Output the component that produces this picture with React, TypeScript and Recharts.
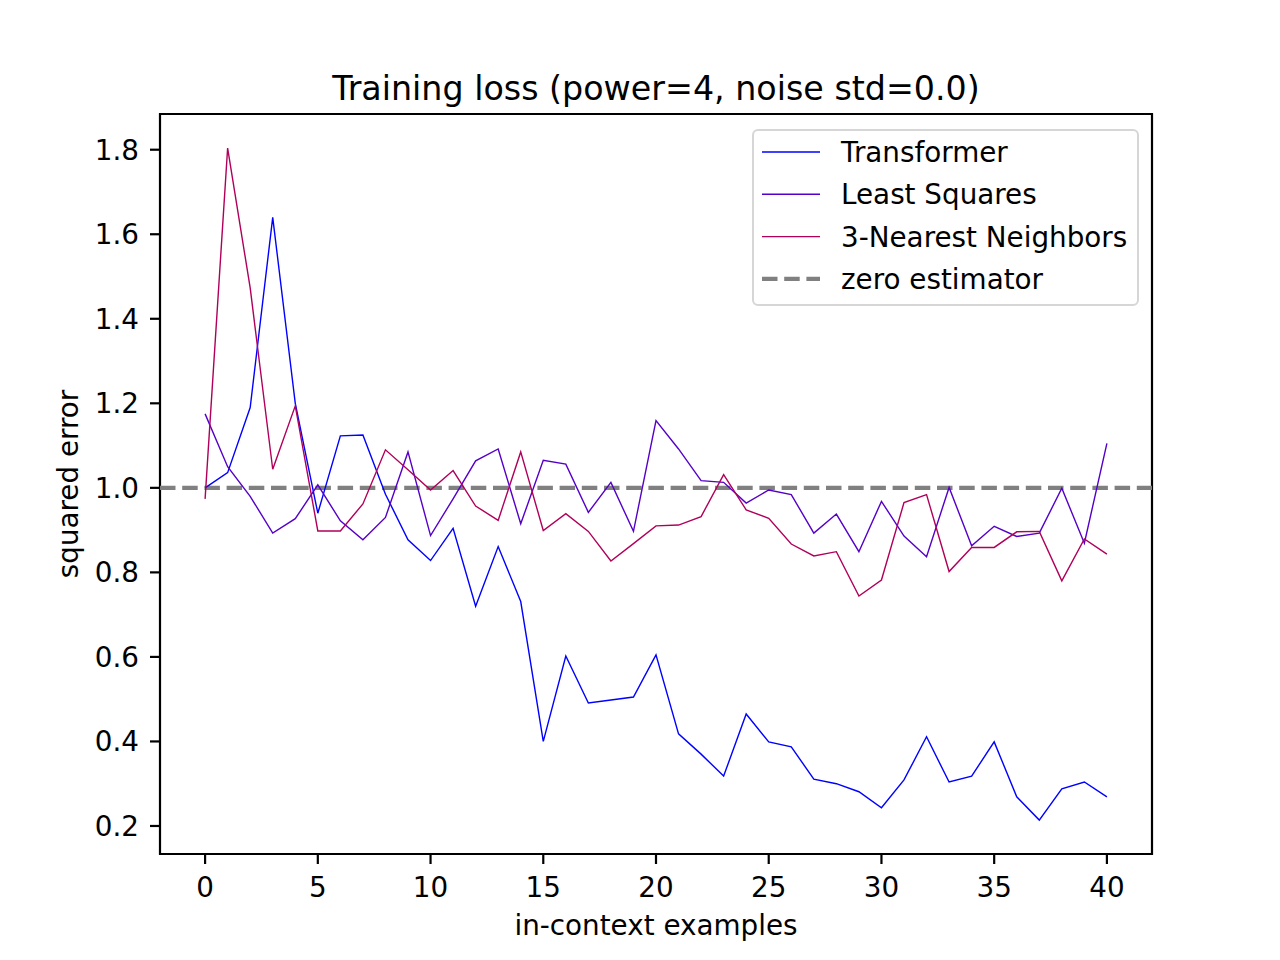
import {
  Line,
  LineChart,
  ReferenceArea,
  ReferenceLine,
  XAxis,
  YAxis,
  Label,
} from "recharts";

const examples = [
  0, 1, 2, 3, 4, 5, 6, 7, 8, 9, 10, 11, 12, 13, 14, 15, 16, 17, 18, 19, 20,
  21, 22, 23, 24, 25, 26, 27, 28, 29, 30, 31, 32, 33, 34, 35, 36, 37, 38, 39, 40,
];

const transformer = [
  1.0, 1.036, 1.19, 1.64, 1.2, 0.94, 1.123, 1.125, 0.985, 0.877, 0.828, 0.904,
  0.72, 0.861, 0.731, 0.4, 0.602, 0.491, 0.498, 0.505, 0.605, 0.418, 0.37,
  0.318, 0.465, 0.399, 0.387, 0.311, 0.3, 0.281, 0.243, 0.309, 0.411, 0.304,
  0.318, 0.399, 0.269, 0.214, 0.288, 0.304, 0.269,
];

const leastSquares = [
  1.175, 1.05, 0.98, 0.893, 0.927, 1.007, 0.922, 0.877, 0.93, 1.085, 0.887,
  0.974, 1.064, 1.092, 0.915, 1.065, 1.056, 0.942, 1.013, 0.897, 1.159, 1.092,
  1.017, 1.013, 0.964, 0.995, 0.984, 0.893, 0.938, 0.849, 0.968, 0.886, 0.837,
  1.001, 0.863, 0.909, 0.885, 0.893, 0.999, 0.869, 1.105,
];

const nearest3 = [
  0.974, 1.804, 1.473, 1.044, 1.194, 0.898, 0.898, 0.962, 1.09, 1.043, 0.995,
  1.041, 0.957, 0.923, 1.085, 0.899, 0.939, 0.897, 0.827, 0.868, 0.91, 0.912,
  0.932, 1.031, 0.948, 0.928, 0.867, 0.839, 0.849, 0.744, 0.782, 0.965, 0.984,
  0.802, 0.859, 0.859, 0.896, 0.897, 0.78, 0.879, 0.843,
];

const xTicks = [0, 5, 10, 15, 20, 25, 30, 35, 40];
const yTicks = [0.2, 0.4, 0.6, 0.8, 1.0, 1.2, 1.4, 1.6, 1.8];

const zeroLevel = 1.0;

const colors = {
  transformer: "#0000ff",
  leastSquares: "#5500c8",
  nearest3: "#b0005a",
  zero: "#808080",
};

const legendItems = [
  { label: "Transformer", color: colors.transformer, dashed: false },
  { label: "Least Squares", color: colors.leastSquares, dashed: false },
  { label: "3-Nearest Neighbors", color: colors.nearest3, dashed: false },
  { label: "zero estimator", color: colors.zero, dashed: true },
];

const data = examples.map((x, i) => ({
  x,
  transformer: transformer[i],
  leastSquares: leastSquares[i],
  nearest3: nearest3[i],
}));

const FONT = "'DejaVu Sans', sans-serif";
const FS = 27.8;
const Y_MIN = 0.1337;
const Y_MAX = 1.8845;
const X_MIN = -2;
const X_MAX = 42;

function LegendBox() {
  return (
    <svg width={388} height={178} style={{ display: "block" }}>
      <rect
        x={1}
        y={1}
        width={385}
        height={175}
        rx={5}
        fill="#ffffff"
        fillOpacity={0.8}
        stroke="#d6d6d6"
        strokeWidth={2}
      />
      {legendItems.map((item, i) => {
        const cy = 23 + i * 42.3;
        return (
          <g key={item.label}>
            <line
              x1={10}
              x2={68}
              y1={cy}
              y2={cy}
              stroke={item.color}
              strokeWidth={item.dashed ? 4.2 : 1.4}
              strokeDasharray={item.dashed ? "15.5 6.7" : undefined}
            />
            <text
              x={89}
              y={cy}
              dy="0.36em"
              fontFamily={FONT}
              fontSize={FS}
              fill="#000"
            >
              {item.label}
            </text>
          </g>
        );
      })}
    </svg>
  );
}

export default function App() {
  return (
    <div
      style={{
        position: "absolute",
        left: 0,
        top: 0,
        width: 1280,
        height: 960,
        background: "#fff",
        fontFamily: FONT,
      }}
    >
      <div
        style={{
          position: "absolute",
          left: 0,
          width: 1280,
          top: 69,
          textAlign: "center",
          paddingLeft: 32,
          boxSizing: "border-box",
          fontSize: 33.3,
          lineHeight: "40px",
          color: "#000",
          fontFamily: FONT,
        }}
      >
        Training loss (power=4, noise std=0.0)
      </div>
      <LineChart
        width={1280}
        height={960}
        data={data}
        margin={{ top: 114, right: 128, left: 0, bottom: 0 }}
      >
        <XAxis
          dataKey="x"
          type="number"
          domain={[X_MIN, X_MAX]}
          ticks={xTicks}
          allowDataOverflow
          height={106}
          axisLine={false}
          tickLine={{ stroke: "#000", strokeWidth: 2.2 }}
          tickSize={10}
          tickMargin={13}
          tick={{ fill: "#000", fontSize: FS, fontFamily: FONT }}
        >
          <Label
            value="in-context examples"
            position="insideBottom"
            offset={25}
            style={{ fill: "#000", fontSize: FS, fontFamily: FONT }}
          />
        </XAxis>
        <YAxis
          type="number"
          domain={[Y_MIN, Y_MAX]}
          ticks={yTicks}
          allowDataOverflow
          width={160}
          axisLine={false}
          tickLine={{ stroke: "#000", strokeWidth: 2.2 }}
          tickSize={10}
          tickMargin={11}
          tickFormatter={(v) => Number(v).toFixed(1)}
          tick={{ fill: "#000", fontSize: FS, fontFamily: FONT }}
        >
          <Label
            value="squared error"
            angle={-90}
            position="insideLeft"
            offset={68}
            style={{
              fill: "#000",
              fontSize: FS,
              fontFamily: FONT,
              textAnchor: "middle",
            }}
          />
        </YAxis>
        <ReferenceLine
          y={zeroLevel}
          stroke={colors.zero}
          strokeWidth={4.2}
          strokeDasharray="15.5 6.7"
        />
        <Line
          dataKey="transformer"
          name="Transformer"
          stroke={colors.transformer}
          strokeWidth={1.4}
          dot={false}
          type="linear"
          isAnimationActive={false}
        />
        <Line
          dataKey="leastSquares"
          name="Least Squares"
          stroke={colors.leastSquares}
          strokeWidth={1.4}
          dot={false}
          type="linear"
          isAnimationActive={false}
        />
        <Line
          dataKey="nearest3"
          name="3-Nearest Neighbors"
          stroke={colors.nearest3}
          strokeWidth={1.4}
          dot={false}
          type="linear"
          isAnimationActive={false}
        />
        <ReferenceArea
          x1={X_MIN}
          x2={X_MAX}
          y1={Y_MIN}
          y2={Y_MAX}
          fill="none"
          stroke="#000"
          strokeWidth={2.2}
          ifOverflow="visible"
        />
      </LineChart>
      <div style={{ position: "absolute", left: 752, top: 129 }}>
        <LegendBox />
      </div>
    </div>
  );
}
